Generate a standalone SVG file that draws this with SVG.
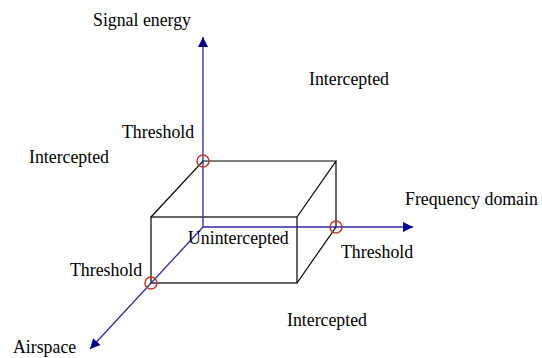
<svg xmlns="http://www.w3.org/2000/svg" width="542" height="358" viewBox="0 0 542 358">
<style>
.t{font-family:"Liberation Serif",serif;font-size:17.8px;fill:#000}
.ax{stroke:#2a2aa0;stroke-width:1.3;fill:none}
.bx{stroke:#000;stroke-width:1.2;fill:none}
.th{stroke:#c0392b;stroke-width:1.5;fill:#fff;fill-opacity:0}
</style>
<defs>
<marker id="ah" viewBox="0 0 10 10" refX="10" refY="5" markerWidth="11" markerHeight="10" markerUnits="userSpaceOnUse" orient="auto">
<path d="M0,0 L10,5 L0,10 Z" fill="#00008b"/>
</marker>
</defs>
<rect width="542" height="358" fill="#fff"/>
<g id="box">
<rect x="151" y="217" width="146" height="66" class="bx"/>
<path d="M151,217 L203,161 L336,161 L297,217 M336,161 L336,227 L297,283" class="bx"/>
</g>
<g id="connectors">
<line x1="203" y1="227" x2="203" y2="37" class="ax" marker-end="url(#ah)"/>
<line x1="203" y1="227" x2="413" y2="227" class="ax" marker-end="url(#ah)"/>
<line x1="203" y1="227" x2="90" y2="349" class="ax" marker-end="url(#ah)"/>
</g>
<g id="thresholds">
<circle cx="203" cy="161" r="6" class="th"/>
<circle cx="336" cy="227" r="6" class="th"/>
<circle cx="151" cy="283" r="6" class="th"/>
</g>
<g id="labels">
<text class="t" x="93" y="26">Signal energy</text>
<text class="t" x="309" y="85">Intercepted</text>
<text class="t" x="122" y="138">Threshold</text>
<text class="t" x="29" y="163">Intercepted</text>
<text class="t" x="405" y="205">Frequency domain</text>
<text class="t" x="188" y="244">Unintercepted</text>
<text class="t" x="341" y="258">Threshold</text>
<text class="t" x="70" y="276">Threshold</text>
<text class="t" x="287" y="326">Intercepted</text>
<text class="t" x="13" y="353">Airspace</text>
</g>
</svg>
